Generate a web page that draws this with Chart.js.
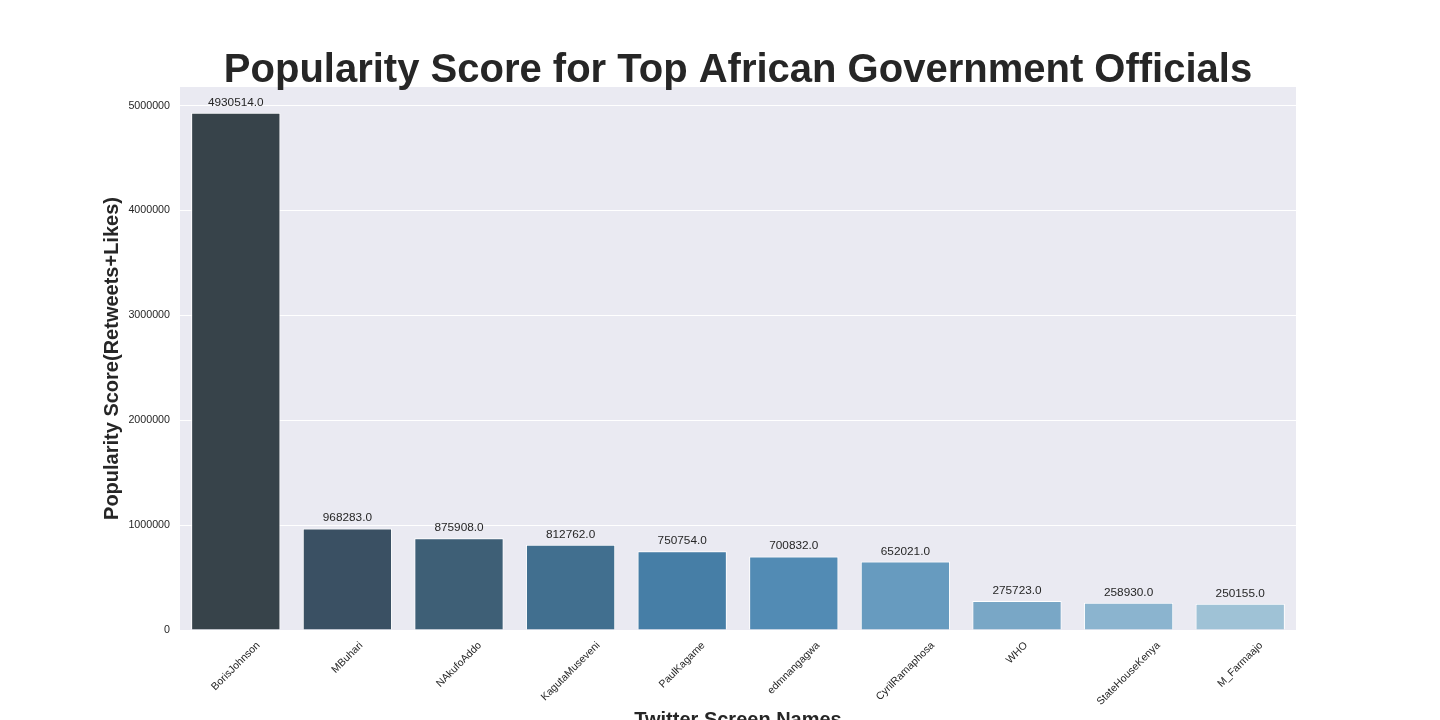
<!DOCTYPE html>
<html>
<head>
<meta charset="utf-8">
<title>Popularity Score</title>
<script src="https://cdn.jsdelivr.net/npm/chart.js@4/dist/chart.umd.min.js"></script>
<style>
  html, body { margin: 0; padding: 0; background: #ffffff; overflow: hidden; }
  #wrap { width: 1440px; height: 720px; }
</style>
</head>
<body>
<div id="wrap"><canvas id="popChart" width="1440" height="720"></canvas></div>
<script>
// twitter accounts and their popularity score (retweets + likes)
var screenNames = ['BorisJohnson', 'MBuhari', 'NAkufoAddo', 'KagutaMuseveni', 'PaulKagame',
                   'edmnangagwa', 'CyrilRamaphosa', 'WHO', 'StateHouseKenya', 'M_Farmaajo'];
var scores = [4930514, 968283, 875908, 812762, 750754, 700832, 652021, 275723, 258930, 250155];
var yTicks = [0, 1000000, 2000000, 3000000, 4000000, 5000000];

// Blues_d style palette, darkest first
var barColors = ['#37434a', '#3a5063', '#3e5f76', '#416f8f', '#467ea6',
                 '#528bb4', '#679bbf', '#79a7c6', '#8bb4cf', '#9fc2d6'];

var textColor = '#262626';
var fontFamily = '"Liberation Sans", Arial, sans-serif';

// plot background, titles, rotated x labels and value labels
var decoPlugin = {
    id: 'deco',
    beforeDraw: function (chart) {
        var c = chart.ctx, a = chart.chartArea;
        c.save();
        c.fillStyle = '#ffffff';
        c.fillRect(0, 0, chart.width, chart.height);
        c.fillStyle = '#eaeaf2';
        c.fillRect(a.left, a.top, a.right - a.left, a.bottom - a.top);
        c.restore();
    },
    afterDatasetsDraw: function (chart) {
        var c = chart.ctx, a = chart.chartArea;
        var meta = chart.getDatasetMeta(0);
        var xScale = chart.scales.x;
        var midX = (a.left + a.right) / 2;
        c.save();
        c.fillStyle = textColor;

        // main title
        c.font = 'bold 40px ' + fontFamily;
        c.textAlign = 'center';
        c.textBaseline = 'alphabetic';
        c.fillText('Popularity Score for Top African Government Officials', midX, 82);

        // value above each bar
        c.font = '11.8px ' + fontFamily;
        meta.data.forEach(function (bar, i) {
            c.fillText(scores[i].toFixed(1), bar.x, bar.y - 7);
        });

        // x tick labels, rotated 45deg, bounding box centred under tick
        var fs = 10.5;
        c.font = fs + 'px ' + fontFamily;
        c.textBaseline = 'middle';
        screenNames.forEach(function (name, i) {
            var x = xScale.getPixelForTick(i);
            var w = c.measureText(name).width;
            var side = (w + fs) * Math.SQRT1_2;
            c.save();
            c.translate(x, a.bottom + 10 + side / 2);
            c.rotate(-Math.PI / 4);
            c.fillText(name, 0, 0);
            c.restore();
        });

        // axis titles
        c.font = 'bold 20px ' + fontFamily;
        c.textBaseline = 'alphabetic';
        c.fillText('Twitter Screen Names', midX, 726);

        c.save();
        c.translate(112, (a.top + a.bottom) / 2);
        c.rotate(-Math.PI / 2);
        c.textBaseline = 'middle';
        c.fillText('Popularity Score(Retweets+Likes)', 0, 0);
        c.restore();

        c.restore();
    }
};

var ctx = document.getElementById('popChart').getContext('2d');
var popChart = new Chart(ctx, {
    type: 'bar',
    data: {
        labels: screenNames,
        datasets: [{
            label: 'Popularity Score',
            data: scores,
            backgroundColor: barColors,
            borderColor: '#ffffff',
            borderWidth: 1,
            categoryPercentage: 0.8,
            barPercentage: 1.0
        }]
    },
    options: {
        responsive: false,
        animation: false,
        layout: {
            padding: { left: 0, right: 144, top: 87, bottom: 0 }
        },
        plugins: {
            legend: { display: false },
            tooltip: { enabled: false },
            title: { display: false }
        },
        scales: {
            x: {
                grid: { display: false },
                border: { display: false },
                ticks: { display: false },
                afterFit: function (scale) { scale.height = 90; }
            },
            y: {
                min: 0,
                max: 5177040,
                afterFit: function (scale) { scale.width = 180; },
                afterBuildTicks: function (scale) {
                    scale.ticks = yTicks.map(function (v) { return { value: v }; });
                },
                grid: { color: '#ffffff', lineWidth: 1, drawTicks: false },
                border: { display: false },
                ticks: {
                    color: textColor,
                    padding: 10,
                    font: { family: fontFamily, size: 10.7 },
                    callback: function (v) { return String(v); }
                }
            }
        }
    },
    plugins: [decoPlugin]
});
</script>
</body>
</html>
